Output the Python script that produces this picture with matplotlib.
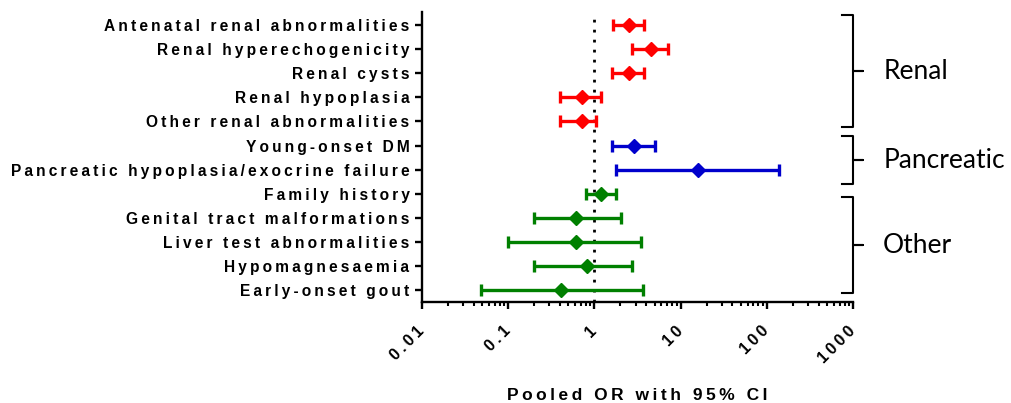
import matplotlib
matplotlib.use("Agg")
import matplotlib.pyplot as plt
import matplotlib.ticker as mticker
from matplotlib.transforms import blended_transform_factory

# data
labels = ["Antenatal renal abnormalities", "Renal hyperechogenicity", "Renal cysts",
          "Renal hypoplasia", "Other renal abnormalities", "Young-onset DM",
          "Pancreatic hypoplasia/exocrine failure", "Family history",
          "Genital tract malformations", "Liver test abnormalities",
          "Hypomagnesaemia", "Early-onset gout"]
or_vals = [2.5, 4.5, 2.5, 0.71, 0.71, 2.9, 16, 1.2, 0.61, 0.61, 0.81, 0.41]
ci_low = [1.64, 2.7, 1.6, 0.40, 0.40, 1.6, 1.8, 0.79, 0.20, 0.10, 0.20, 0.049]
ci_high = [3.75, 7.2, 3.8, 1.2, 1.03, 5.1, 140, 1.8, 2.05, 3.5, 2.7, 3.7]
groups = ["Renal"] * 5 + ["Pancreatic"] * 2 + ["Other"] * 5
group_names = ["Renal", "Pancreatic", "Other"]
group_colors = {"Renal": "#ff0000", "Pancreatic": "#0000cc", "Other": "#008000"}
xticks = [0.01, 0.1, 1, 10, 100, 1000]
xticklabels = ["0.01", "0.1", "1", "10", "100", "1000"]

FAM = ["Liberation Sans", "DejaVu Sans"]


def spaced(s):
    # wide letter spacing like the original export
    return "\u2009".join(s)


fig = plt.figure(figsize=(10.11, 4.03), dpi=100)
ax = fig.add_axes([422 / 1011, 101 / 403, 431 / 1011, 290 / 403])

for i in range(len(labels)):
    c = group_colors[groups[i]]
    ax.errorbar(or_vals[i], i, xerr=[[or_vals[i] - ci_low[i]], [ci_high[i] - or_vals[i]]],
                fmt="D", color=c, ms=7.5, elinewidth=2.4, capsize=4, capthick=2.4, zorder=3)

ax.axvline(1, color="black", ls=(0, (1, 2.6)), lw=2, zorder=1)

ax.set_xscale("log")
ax.set_xlim(0.01, 1000)
ax.set_ylim(11.49, -0.54)
ax.xaxis.set_minor_locator(mticker.LogLocator(base=10, subs=range(2, 10), numticks=20))
ax.xaxis.set_minor_formatter(mticker.NullFormatter())
ax.set_xticks(xticks)
ax.set_xticklabels([spaced(t) for t in xticklabels], rotation=45, ha="right", va="center",
                   rotation_mode="anchor", family=FAM, fontweight="bold", fontsize=11.5)
ax.set_yticks(range(len(labels)))
ax.set_yticklabels([spaced(l) for l in labels], family=FAM, fontweight="bold", fontsize=11.2)

for s in ["top", "right"]:
    ax.spines[s].set_visible(False)
for s in ["left", "bottom"]:
    ax.spines[s].set_linewidth(1.7)
ax.tick_params(axis="x", which="major", length=5, width=1.7, pad=14)
ax.tick_params(axis="x", which="minor", length=3, width=1.5)
ax.tick_params(axis="y", length=5, width=1.7, pad=4)

ax.set_xlabel(spaced("Pooled OR with 95% CI"), family=FAM, fontweight="bold",
              fontsize=12.5, labelpad=16)

# braces for the groups
tr = blended_transform_factory(ax.transAxes, ax.transData)
brace_spans = {"Renal": (-0.41, 4.23), "Pancreatic": (4.6, 6.6), "Other": (7.14, 11.12)}
for g in group_names:
    y0, y1 = brace_spans[g]
    ym = (y0 + y1) / 2
    ax.plot([0.974, 1.0, 1.0, 1.023, 1.0, 1.0, 0.974],
            [y0, y0, ym, ym, ym, y1, y1],
            color="black", lw=1.5, transform=tr, clip_on=False, solid_joinstyle="round")
    ax.text(1.07, ym, g, transform=tr, family="Lato", fontsize=19,
            va="center", ha="left")

fig.savefig("out.png", dpi=100)
